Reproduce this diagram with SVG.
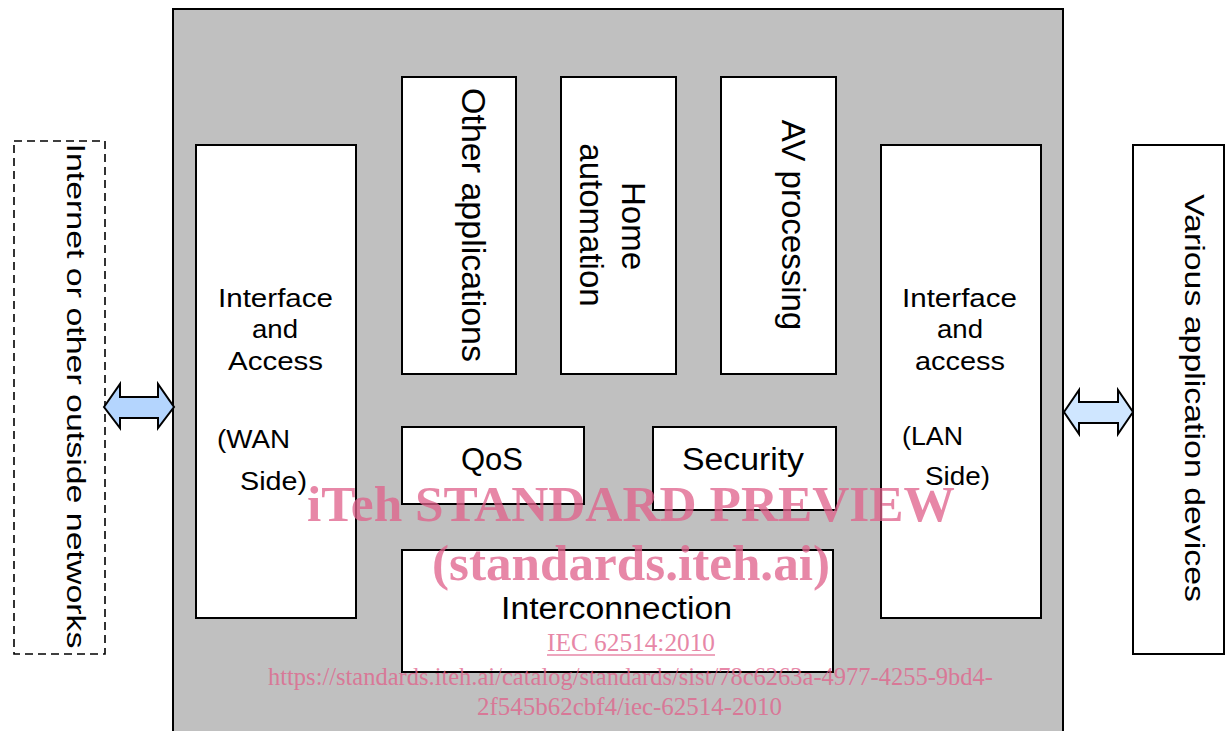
<svg xmlns="http://www.w3.org/2000/svg" width="1227" height="731" viewBox="0 0 1227 731">
<style>
.box{fill:#ffffff;stroke:#000000;stroke-width:2}
.outer{fill:#c0c0c0;stroke:#000000;stroke-width:2}
.dash{fill:#ffffff;stroke:#000000;stroke-width:1.6;stroke-dasharray:8 5}
.t{font-family:"Liberation Sans",Arial,sans-serif;fill:#000000}
.arrow{stroke:#000000;stroke-width:2;stroke-linejoin:miter}
.wm{font-family:"Liberation Serif","Times New Roman",serif;fill:#e0608a;opacity:0.75}
</style>
<rect width="1227" height="731" fill="#ffffff"/>
<g id="gateway">
<rect class="outer" x="173" y="9" width="890" height="740"/>
</g>
<g id="internet">
<rect class="dash" x="14" y="141" width="91" height="513"/>
<text class="t" font-size="25" text-anchor="middle" textLength="505" lengthAdjust="spacingAndGlyphs" transform="translate(67,396) rotate(90)">Internet or other outside networks</text>
</g>
<g id="devices">
<rect class="box" x="1133" y="145" width="91" height="509"/>
<text class="t" font-size="28" text-anchor="middle" textLength="408" lengthAdjust="spacingAndGlyphs" transform="translate(1185,398) rotate(90)">Various application devices</text>
</g>
<g id="wan">
<rect class="box" x="196" y="145" width="160" height="473"/>
<text class="t" font-size="26" x="218" y="307" textLength="115" lengthAdjust="spacingAndGlyphs">Interface</text>
<text class="t" font-size="26" x="252" y="338" textLength="46" lengthAdjust="spacingAndGlyphs">and</text>
<text class="t" font-size="26" x="228" y="370" textLength="95" lengthAdjust="spacingAndGlyphs">Access</text>
<text class="t" font-size="26" x="217" y="448" textLength="73" lengthAdjust="spacingAndGlyphs">(WAN</text>
<text class="t" font-size="26" x="240" y="490" textLength="67" lengthAdjust="spacingAndGlyphs">Side)</text>
</g>
<g id="lan">
<rect class="box" x="881" y="145" width="160" height="473"/>
<text class="t" font-size="26" x="902" y="307" textLength="115" lengthAdjust="spacingAndGlyphs">Interface</text>
<text class="t" font-size="26" x="937" y="338" textLength="46" lengthAdjust="spacingAndGlyphs">and</text>
<text class="t" font-size="26" x="915" y="370" textLength="90" lengthAdjust="spacingAndGlyphs">access</text>
<text class="t" font-size="26" x="902" y="445" textLength="61" lengthAdjust="spacingAndGlyphs">(LAN</text>
<text class="t" font-size="26" x="925" y="485" textLength="65" lengthAdjust="spacingAndGlyphs">Side)</text>
</g>
<g id="other">
<rect class="box" x="402" y="77" width="114" height="297"/>
<text class="t" font-size="34" text-anchor="middle" transform="translate(462,225) rotate(90)">Other applications</text>
</g>
<g id="home">
<rect class="box" x="561" y="77" width="115" height="297"/>
<text class="t" font-size="33" text-anchor="middle" transform="translate(622,226) rotate(90)">Home</text>
<text class="t" font-size="33" text-anchor="middle" transform="translate(580,225) rotate(90)">automation</text>
</g>
<g id="av">
<rect class="box" x="721" y="77" width="115" height="297"/>
<text class="t" font-size="33" text-anchor="middle" transform="translate(782,225) rotate(90)">AV processing</text>
</g>
<g id="qos">
<rect class="box" x="402" y="427" width="182" height="77"/>
<text class="t" font-size="31" text-anchor="middle" x="492" y="470">QoS</text>
</g>
<g id="security">
<rect class="box" x="653" y="427" width="183" height="83"/>
<text class="t" font-size="31" x="682" y="470" textLength="122" lengthAdjust="spacingAndGlyphs">Security</text>
</g>
<g id="interconnection">
<rect class="box" x="402" y="550" width="431" height="122"/>
<text class="t" font-size="31" x="501" y="619" textLength="231" lengthAdjust="spacingAndGlyphs">Interconnection</text>
</g>
<g id="connectors">
<polygon class="arrow" fill="#b4d5fe" points="104,407 120,384 120,397 158,397 158,384 174,407 158,428 158,418 120,418 120,428"/>
<polygon class="arrow" fill="#cfe6ff" points="1064,412 1079,390 1079,402 1118,402 1118,390 1133,412 1118,434 1118,423 1079,423 1079,434"/>
</g>
<g id="watermark">
<text class="wm" font-weight="bold" font-size="50" x="307" y="521" textLength="648" lengthAdjust="spacingAndGlyphs">iTeh STANDARD PREVIEW</text>
<text class="wm" font-weight="bold" font-size="50" x="432" y="580" textLength="398" lengthAdjust="spacingAndGlyphs">(standards.iteh.ai)</text>
<text class="wm" font-size="25" x="547" y="651" textLength="168" lengthAdjust="spacingAndGlyphs">IEC 62514:2010</text>
<line x1="547" y1="655" x2="715" y2="655" stroke="#e0608a" stroke-width="1.5" opacity="0.75"/>
<text class="wm" font-size="26" x="268" y="685" textLength="725" lengthAdjust="spacingAndGlyphs">https://standards.iteh.ai/catalog/standards/sist/78c6263a-4977-4255-9bd4-</text>
<text class="wm" font-size="26" x="477" y="715" textLength="305" lengthAdjust="spacingAndGlyphs">2f545b62cbf4/iec-62514-2010</text>
</g>
</svg>
